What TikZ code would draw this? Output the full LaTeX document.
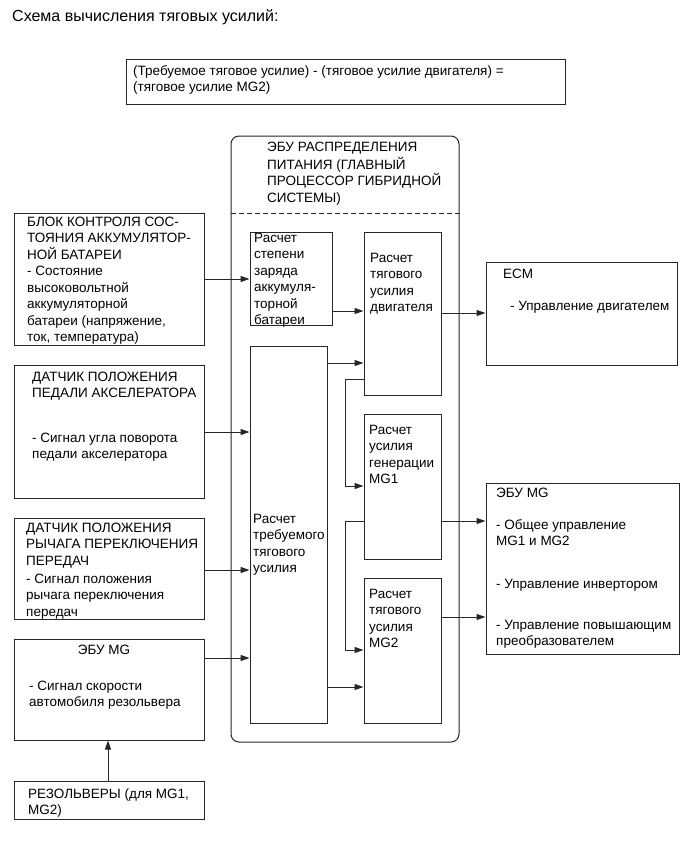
\documentclass[tikz,border=0pt]{standalone}
\usepackage{fontspec}
\setmainfont{Liberation Sans}
\usetikzlibrary{arrows.meta,fit}
\newcommand\bodyf{\fontsize{13.5}{16.5}\selectfont}
\newcommand\titlef{\fontsize{16}{19}\selectfont}
\begin{document}
\begin{tikzpicture}[x=1pt,y=-1pt,
  boxst/.style={draw=black!85, line width=1pt, inner sep=0pt},
  txt/.style={anchor=north west, inner sep=0pt, align=left, font=\bodyf},
  arr/.style={draw=black!85, line width=1pt, -{Triangle[length=9pt,width=6pt]}}]
\useasboundingbox[fill=white] (0,0) rectangle (691,854);

% title and formula
\node[anchor=north west, inner sep=0pt, font=\titlef] (title) at (12,7.5) {\strut Схема вычисления тяговых усилий:};
\node[boxst, fit={(126,59) (565,104)}] (formula) {};
\node[txt] (tformula) at (133,63.5) {\strut(Требуемое тяговое усилие) - (тяговое усилие двигателя) =\\(тяговое усилие MG2)};

% big ECU box
\node[boxst, rounded corners=8pt, fit={(231,136) (459,742)}] (big) {};
\draw[black!85, line width=1pt, dash pattern=on 5pt off 3pt] (big.west |- 0,213) -- (big.east |- 0,213);
\node[txt] (tbig) at (267,139.5) {\strut ЭБУ РАСПРЕДЕЛЕНИЯ\\ПИТАНИЯ (ГЛАВНЫЙ\\ПРОЦЕССОР ГИБРИДНОЙ\\СИСТЕМЫ)};

% left boxes
\node[boxst, fit={(14,213) (204,345)}] (blok) {};
\node[txt] (tblok) at (27,214.5) {\strut БЛОК КОНТРОЛЯ СОС-\\ТОЯНИЯ АККУМУЛЯТОР-\\НОЙ БАТАРЕИ\\- Состояние\\высоковольтной\\аккумуляторной\\батареи (напряжение,\\ток, температура)};

\node[boxst, fit={(14,365) (204,498)}] (pedal) {};
\node[txt] (tpedal1) at (32,369.5) {\strut ДАТЧИК ПОЛОЖЕНИЯ\\ПЕДАЛИ АКСЕЛЕРАТОРА};
\node[txt] (tpedal2) at (32,430.5) {\strut - Сигнал угла поворота\\педали акселератора};

\node[boxst, fit={(14,518) (204,619)}] (rych) {};
\node[txt] (trych1) at (26,520.5) {\strut ДАТЧИК ПОЛОЖЕНИЯ\\РЫЧАГА ПЕРЕКЛЮЧЕНИЯ\\ПЕРЕДАЧ};
\node[txt] (trych2) at (26,571.5) {\strut - Сигнал положения\\рычага переключения\\передач};

\node[boxst, fit={(14,639) (204,740)}] (mgL) {};
\node[anchor=north, inner sep=0pt, font=\bodyf] (tmgL1) at (104,642.5) {\strut ЭБУ MG};
\node[txt] (tmgL2) at (29,678.5) {\strut - Сигнал скорости\\автомобиля резольвера};

\node[boxst, fit={(14,781) (204,819)}] (rez) {};
\node[txt] (trez) at (28,786.5) {\strut РЕЗОЛЬВЕРЫ (для MG1,\\MG2)};

% inner boxes
\node[boxst, fit={(250,232) (332,325)}] (soc) {};
\node[txt] (tsoc) at (254,230.5) {\strut Расчет\\степени\\заряда\\аккумуля-\\торной\\батареи};

\node[boxst, fit={(364,232) (441,395)}] (dvig) {};
\node[txt] (tdvig) at (370,250.5) {\strut Расчет\\тягового\\усилия\\двигателя};

\node[boxst, fit={(250,346) (327,723)}] (treb) {};
\node[txt] (ttreb) at (253,511.5) {\strut Расчет\\требуемого\\тягового\\усилия};

\node[boxst, fit={(364,414) (441,559)}] (mg1) {};
\node[txt] (tmg1) at (369,422.5) {\strut Расчет\\усилия\\генерации\\MG1};

\node[boxst, fit={(364,578) (441,723)}] (mg2) {};
\node[txt] (tmg2) at (369,586.5) {\strut Расчет\\тягового\\усилия\\MG2};

% right boxes
\node[boxst, fit={(486,262) (677,365)}] (ecm) {};
\node[txt] (tecm1) at (503,266.5) {\strut ECM};
\node[txt] (tecm2) at (510,298.5) {\strut - Управление двигателем};

\node[boxst, fit={(486,483) (679,654)}] (mgR) {};
\node[txt] (tmgR1) at (496,485.5) {\strut ЭБУ MG};
\node[txt] (tmgR2) at (496,517.5) {\strut - Общее управление\\MG1 и MG2};
\node[txt] (tmgR3) at (496,576.5) {\strut - Управление инвертором};
\node[txt] (tmgR4) at (496,617.5) {\strut - Управление повышающим\\преобразователем};

% connectors
\draw[arr] (blok.east |- 0,279) -- (soc.west |- 0,279);
\draw[arr] (soc.east |- 0,311) -- (dvig.west |- 0,311);
\draw[arr] (dvig.east |- 0,313) -- (ecm.west |- 0,313);
\draw[arr] (treb.east |- 0,363) -- (dvig.west |- 0,363);
\draw[arr] (dvig.west |- 0,379) -- (345,379) -- (345,486) -- (mg1.west |- 0,486);
\draw[arr] (mg1.west |- 0,521) -- (345,521) -- (345,650) -- (mg2.west |- 0,650);
\draw[arr] (treb.east |- 0,687) -- (mg2.west |- 0,687);
\draw[arr] (mg1.east |- 0,521) -- (mgR.west |- 0,521);
\draw[arr] (mg2.east |- 0,617) -- (mgR.west |- 0,617);
\draw[arr] (pedal.east |- 0,432) -- (treb.west |- 0,432);
\draw[arr] (rych.east |- 0,570) -- (treb.west |- 0,570);
\draw[arr] (mgL.east |- 0,658) -- (treb.west |- 0,658);
\draw[arr] (rez.north -| 108,0) -- (mgL.south -| 108,0);
\end{tikzpicture}
\end{document}
